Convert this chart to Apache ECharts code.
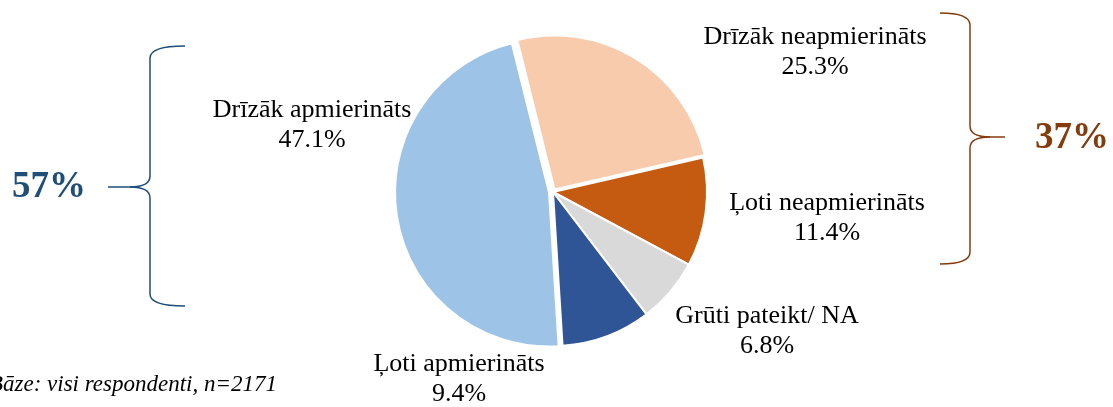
<!DOCTYPE html>
<html>
<head>
<meta charset="utf-8">
<script src="https://cdn.jsdelivr.net/npm/echarts@6/dist/echarts.min.js"></script>
<style>
    html, body { margin: 0; padding: 0; background: #fff; }
    #chart { width: 1113px; height: 407px; }
</style>
</head>
<body>
<div id="chart"></div>
<script>
// dati (procenti)
const categories = ['Drīzāk neapmierināts', 'Ļoti neapmierināts', 'Grūti pateikt/ NA', 'Ļoti apmierināts', 'Drīzāk apmierināts'];
const values = [25.3, 11.4, 6.8, 9.4, 47.1];
const colors = ['#F8CBAD', '#C55A11', '#D9D9D9', '#2F5597', '#9DC3E6'];
const explode = [3, 0, 0, 0, 4];
// etiķešu centri
const labelX = [815, 827, 767, 459, 312];
const labelY = [52, 218, 331, 379, 125];
const groupTotals = ['57%', '37%'];
const footnote = 'Bāze: visi respondenti, n=2171';

const pieCenter = [553, 192];
const pieRadius = 154;
const startAngle = 104;
const total = values.reduce((a, b) => a + b, 0);

// daļas centrs, ja tā ir izvirzīta
function sliceCenter(idx) {
    let before = 0;
    for (let i = 0; i < idx; i++) before += values[i];
    const a = (startAngle - (before + values[idx] / 2) / total * 360) * Math.PI / 180;
    return [
        pieCenter[0] + Math.cos(a) * explode[idx],
        pieCenter[1] - Math.sin(a) * explode[idx]
    ];
}

const hidden = { color: 'rgba(0,0,0,0)', borderWidth: 0 };

// figūriekava
function brace(x, top, mid, bottom, endX, tipX, color) {
    const t = tipX < x ? -1 : 1;
    const st = { stroke: color, lineWidth: 1.5, fill: null };
    const hx = x + t * 20;
    return {
        type: 'group',
        children: [
            { type: 'bezierCurve', shape: { x1: endX, y1: top, x2: x, y2: top + 12, cpx1: x, cpy1: top }, style: st },
            { type: 'line', shape: { x1: x, y1: top + 12, x2: x, y2: mid - 11 }, style: st },
            { type: 'bezierCurve', shape: { x1: x, y1: mid - 11, x2: hx, y2: mid, cpx1: x, cpy1: mid }, style: st },
            { type: 'line', shape: { x1: hx, y1: mid, x2: tipX, y2: mid }, style: st },
            { type: 'bezierCurve', shape: { x1: hx, y1: mid, x2: x, y2: mid + 11, cpx1: x, cpy1: mid }, style: st },
            { type: 'line', shape: { x1: x, y1: mid + 11, x2: x, y2: bottom - 12 }, style: st },
            { type: 'bezierCurve', shape: { x1: x, y1: bottom - 12, x2: endX, y2: bottom, cpx1: x, cpy1: bottom }, style: st }
        ]
    };
}

function totalText(x, y, text, color) {
    return {
        type: 'text',
        x: x, y: y,
        style: {
            text: text,
            fontFamily: 'Liberation Serif',
            fontWeight: 'bold',
            fontSize: 37,
            fill: color,
            align: 'center',
            verticalAlign: 'middle'
        }
    };
}

const series = [
    {
        type: 'pie',
        center: pieCenter,
        radius: pieRadius,
        startAngle: startAngle,
        clockwise: true,
        avoidLabelOverlap: false,
        itemStyle: { borderColor: '#fff', borderWidth: 2 },
        label: {
            show: true,
            position: 'outside',
            fontFamily: 'Liberation Serif',
            fontSize: 26,
            lineHeight: 30,
            color: '#000',
            align: 'center',
            formatter: p => p.name + '\n' + p.value.toFixed(1) + '%'
        },
        labelLine: { show: false },
        labelLayout: p => ({
            x: labelX[p.dataIndex],
            y: labelY[p.dataIndex],
            align: 'center',
            verticalAlign: 'middle'
        }),
        emphasis: { disabled: true },
        data: categories.map((c, i) => ({
            name: c,
            value: values[i],
            itemStyle: explode[i] > 0 ? hidden : { color: colors[i] }
        }))
    }
];

// izvirzītās daļas - katra savā sērijā
explode.forEach((off, k) => {
    if (off <= 0) return;
    series.push({
        type: 'pie',
        center: sliceCenter(k),
        radius: pieRadius,
        startAngle: startAngle,
        clockwise: true,
        silent: true,
        label: { show: false },
        labelLine: { show: false },
        itemStyle: { borderColor: '#fff', borderWidth: 2 },
        emphasis: { disabled: true },
        data: categories.map((c, i) => ({
            name: c,
            value: values[i],
            itemStyle: i === k ? { color: colors[i] } : hidden
        }))
    });
});

const chart = echarts.init(document.getElementById('chart'));

chart.setOption({
    animation: false,
    textStyle: { fontFamily: 'Liberation Serif' },
    series: series,
    graphic: [
        brace(150, 46, 187, 306, 185, 108, '#1F4E79'),
        totalText(49, 187, groupTotals[0], '#1F4E79'),
        brace(970, 13, 137, 264, 940, 1005, '#843C0C'),
        totalText(1072, 138, groupTotals[1], '#843C0C'),
        {
            type: 'text',
            x: 277, y: 385,
            style: {
                text: footnote,
                fontFamily: 'Liberation Serif',
                fontStyle: 'italic',
                fontSize: 23,
                fill: '#000',
                align: 'right',
                verticalAlign: 'middle'
            }
        }
    ]
});
</script>
</body>
</html>
